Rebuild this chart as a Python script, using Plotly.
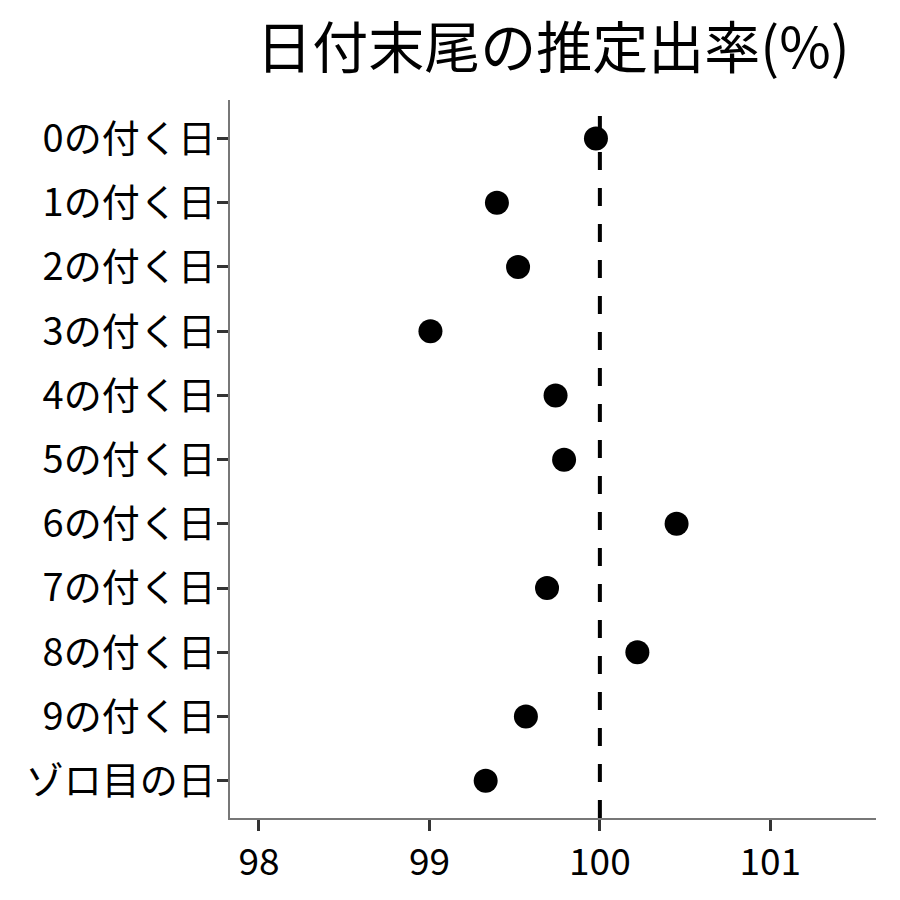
import plotly.graph_objects as go

categories = ["0の付く日", "1の付く日", "2の付く日", "3の付く日", "4の付く日", "5の付く日",
              "6の付く日", "7の付く日", "8の付く日", "9の付く日", "ゾロ目の日"]
values = [99.977, 99.396, 99.52, 99.006, 99.74, 99.79, 100.45, 99.69, 100.22, 99.566, 99.33]
x_ticks = [98, 99, 100, 101]
reference_value = 100

FONT = "Noto Sans CJK JP"

fig = go.Figure()
fig.add_trace(go.Scatter(
    x=values, y=categories, mode="markers",
    marker=dict(color="black", size=24),
    showlegend=False,
))
fig.add_vline(x=reference_value, line=dict(color="black", width=4, dash="18px,18px"))

fig.update_layout(
    width=900, height=900,
    margin=dict(l=222, r=32, t=92, b=90),
    plot_bgcolor="white", paper_bgcolor="white",
    font=dict(family=FONT, color="black"),
    title=dict(text="日付末尾の推定出率(%)", x=(553 - 8) / 900, xanchor="center",
               y=1 - 40/900, yanchor="middle",
               font=dict(family=FONT, size=56, color="black")),
    xaxis=dict(range=[97.83, 101.62], tickvals=x_ticks, ticktext=[str(t) for t in x_ticks],
               showgrid=False, zeroline=False, showline=True, linecolor="#777777", linewidth=1.5,
               ticks="outside", ticklen=11, tickwidth=2.5, tickcolor="#333333",
               tickfont=dict(family=FONT, size=37, color="black")),
    yaxis=dict(categoryorder="array", categoryarray=categories,
               range=[10.58, -0.6], showgrid=False, zeroline=False,
               showline=True, linecolor="#777777", linewidth=1.5,
               ticks="outside", ticklen=11, tickwidth=2.5, tickcolor="#333333",
               ticklabelstandoff=-6,
               tickfont=dict(family=FONT, size=38, color="black")),
)

fig.write_html("out.html")
